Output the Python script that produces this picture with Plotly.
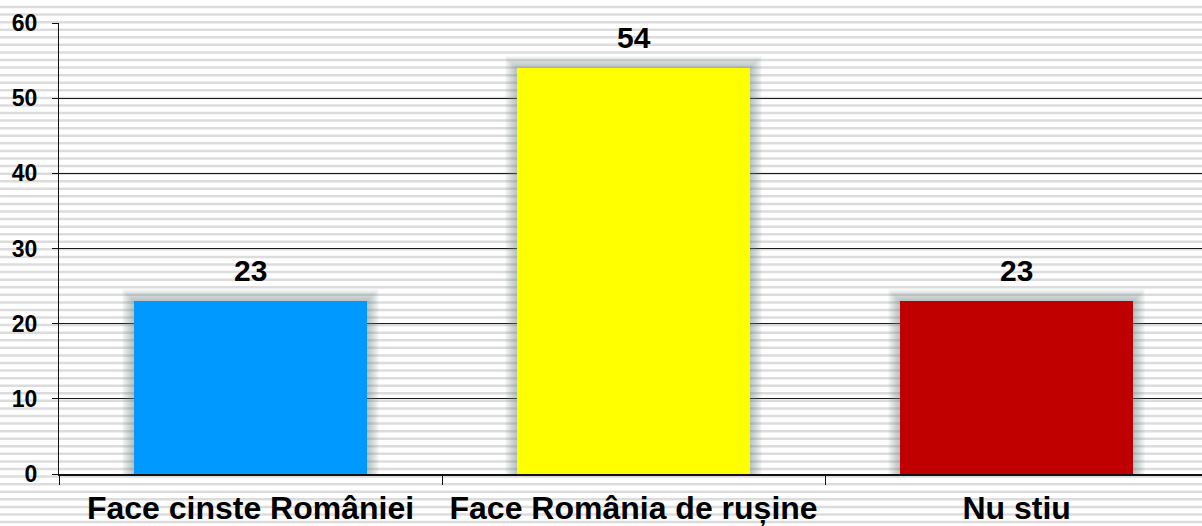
import plotly.graph_objects as go

# Survey answers and their shares (%)
categories = ["Face cinste României", "Face România de rușine", "Nu stiu"]
values = [23, 54, 23]
bar_colors = ["#0099FF", "#FFFF00", "#C00000"]
y_ticks = [0, 10, 20, 30, 40, 50, 60]

W, H = 1202, 526
M_L, M_R, M_T, M_B = 59, 0, 23, 52
FONT = "Liberation Sans, Arial, sans-serif"
X_RANGE = [-0.5, 2.484]
Y_RANGE = [0, 60]
BAR_W = 0.608

plot_w = W - M_L - M_R
plot_h = H - M_T - M_B
x_per_px = (X_RANGE[1] - X_RANGE[0]) / plot_w
y_per_px = (Y_RANGE[1] - Y_RANGE[0]) / plot_h

fig = go.Figure()

# soft grey halo: stacked translucent bars, each a little larger
GLOW_STEPS = 12
for k in range(GLOW_STEPS, 0, -1):
    grow = 1.0 * k
    fig.add_trace(go.Bar(
        x=categories,
        y=[v + grow * y_per_px for v in values],
        width=BAR_W + 2 * grow * x_per_px,
        marker=dict(color="rgba(118,128,146,0.05)", line=dict(width=0)),
        hoverinfo="skip",
    ))

fig.add_trace(go.Bar(
    x=categories,
    y=values,
    width=BAR_W,
    marker=dict(color=bar_colors, line=dict(width=0)),
    hoverinfo="skip",
))

# value labels above each bar
for cat, val in zip(categories, values):
    fig.add_annotation(
        x=cat, y=val, text=str(val), showarrow=False,
        yanchor="bottom", yshift=12,
        font=dict(family=FONT, size=30, color="black", weight="bold"),
    )

# horizontal ruled-paper background across the whole figure
stripe_period = 7.574
stripe_y = 7.0
shapes = []
while stripe_y < H + 4:
    py = (H - M_B - stripe_y) / plot_h
    shapes.append(dict(
        type="line", xref="paper", yref="paper", layer="below",
        x0=-0.1, x1=1.1, y0=py, y1=py,
        line=dict(color="#DCDCDC", width=2.5),
    ))
    stripe_y += stripe_period
fig.update_layout(shapes=shapes)

fig.update_layout(
    width=W, height=H,
    margin=dict(l=M_L, r=M_R, t=M_T, b=M_B, pad=0, autoexpand=False),
    paper_bgcolor="white",
    plot_bgcolor="rgba(0,0,0,0)",
    showlegend=False,
    barmode="overlay",
    bargap=0,
    xaxis=dict(
        type="category",
        range=X_RANGE,
        automargin=False,
        showgrid=False,
        showline=True, linecolor="#111", linewidth=2,
        ticks="outside", tickson="boundaries", ticklen=9,
        tickcolor="#111", tickwidth=1,
        tickfont=dict(family=FONT, size=32, color="black", weight="bold"),
        ticklabelstandoff=5,
        zeroline=False,
    ),
    yaxis=dict(
        range=Y_RANGE,
        tickvals=y_ticks,
        automargin=False,
        showgrid=True, gridcolor="#1A1A1A", gridwidth=1,
        showline=True, linecolor="#111", linewidth=1,
        ticks="outside", ticklen=6, tickcolor="#111", tickwidth=1,
        tickfont=dict(family=FONT, size=23, color="black", weight="bold"),
        ticklabelstandoff=10,
        zeroline=False,
    ),
)

fig.write_html("out.html")
